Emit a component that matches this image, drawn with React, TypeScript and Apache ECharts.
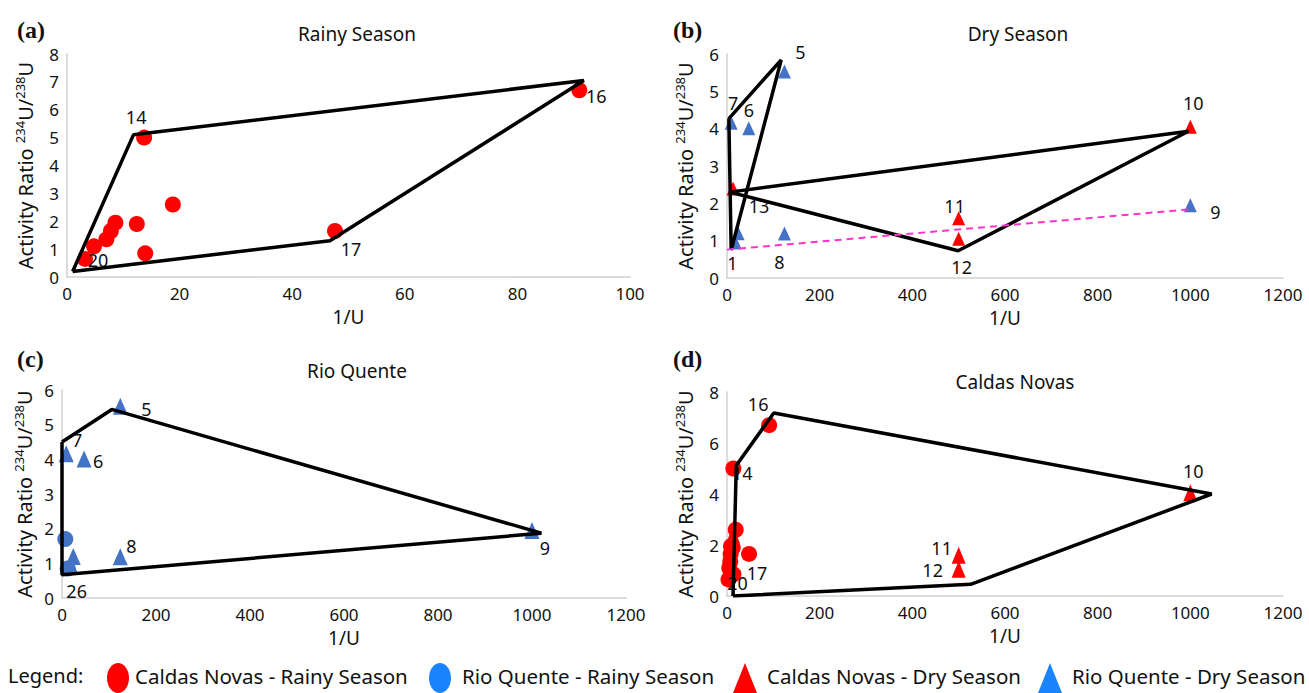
import React, { useEffect, useRef } from "react";
import * as echarts from "echarts";

// [1/U, 234U/238U activity ratio, sample id]
const cnRainy: [number, number, string][] = [
  [91, 6.7, "16"], [13.7, 5.0, "14"], [18.8, 2.6, ""], [12.4, 1.9, ""], [8.6, 1.95, ""],
  [7.8, 1.65, ""], [7.0, 1.35, ""], [4.8, 1.1, ""], [3.2, 0.65, "20"], [13.9, 0.85, ""], [47.6, 1.65, "17"],
];
const rqRainy: [number, number, string][] = [[7, 1.7, ""], [12, 0.85, "26"]];
const cnDry: [number, number, string][] = [[1000, 4.05, "10"], [500, 1.6, "11"], [500, 1.05, "12"], [13, 2.4, "13"]];
const rqDry: [number, number, string][] = [
  [124, 5.53, "5"], [47, 4.01, "6"], [9, 4.16, "7"], [124, 1.19, "8"], [1000, 1.95, "9"], [24, 1.2, ""], [18, 0.95, "1"],
];

// hull / trend lines
const hullA = [[1, 0.2], [11.8, 5.1], [91.8, 7.05], [46.7, 1.3], [1, 0.2]];
const hullBRq = [[4, 4.27], [117, 5.84], [9, 0.75], [4, 4.27]];
const hullBCn = [[6, 2.3], [996, 3.93], [499, 0.73], [6, 2.3]];
const trendB = [[0, 0.76], [1000, 1.84]];
const hullC = [[0, 4.5], [106, 5.44], [1020, 1.87], [0, 0.67], [0, 4.5]];
const hullD = [[13, 0], [20, 5.12], [101, 7.18], [1046, 4.0], [526, 0.46], [13, 0]];

const titles = ["Rainy Season", "Dry Season", "Rio Quente", "Caldas Novas"];
const letters = ["(a)", "(b)", "(c)", "(d)"];
const xMax = [100, 1200, 1200, 1200];
const xStep = [20, 200, 200, 200];
const yMax = [8, 6, 6, 8];
const yStep = [1, 1, 1, 2];
const legendItems = ["Caldas Novas - Rainy Season", "Rio Quente - Rainy Season", "Caldas Novas - Dry Season", "Rio Quente - Dry Season"];

// label offsets (px) per panel
const offA: Record<string, number[]> = { "16": [17, 6], "14": [-8, -21], "20": [13, 1], "17": [16, 18] };
const offB: Record<string, number[]> = {
  "5": [16, -20], "7": [2, -20], "6": [0, -18], "13": [26, 18], "1": [-3, 20], "8": [-5, 28],
  "10": [3, -24], "11": [-4, -12], "12": [3, 28], "9": [25, 7],
};
const offC: Record<string, number[]> = { "5": [26, 3], "7": [11, -14], "6": [14, 2], "8": [11, -11], "9": [13, 18], "26": [9, 22] };
const offD: Record<string, number[]> = { "16": [-11, -21], "14": [9, 4], "17": [8, 19], "20": [9, 4], "10": [3, -22], "11": [-17, -7], "12": [-26, 1] };

const FONT = "'Noto Sans', 'Open Sans', sans-serif";
const RED = "#ff0000";
const BLUE = "#4472c4";

const grids = [
  { left: 67, top: 54, width: 563, height: 223 },
  { left: 727, top: 54, width: 556, height: 224 },
  { left: 62, top: 390, width: 564, height: 208 },
  { left: 727, top: 392, width: 556, height: 204 },
];

function scatter(data: [number, number, string][], idx: number, symbol: string, size: any, color: string, offs: Record<string, number[]>) {
  return {
    type: "scatter",
    xAxisIndex: idx,
    yAxisIndex: idx,
    symbol,
    symbolSize: size,
    itemStyle: { color, opacity: 1 },
    z: 3,
    data: data.map(([x, y, id]) => ({
      value: [x, y],
      label: offs[id]
        ? { show: true, formatter: id, position: "inside", offset: offs[id], color: "#111", fontSize: 18, fontFamily: FONT }
        : { show: false },
    })),
  };
}

function line(data: number[][], idx: number, extra: any = {}) {
  return {
    type: "line",
    xAxisIndex: idx,
    yAxisIndex: idx,
    data,
    symbol: "none",
    z: 4,
    lineStyle: { color: "#000", width: 3.5 },
    ...extra,
  };
}

export default function App() {
  const ref = useRef<HTMLDivElement>(null);
  useEffect(() => {
    document.body.style.margin = "0";
    const chart = echarts.init(ref.current!, null, { renderer: "svg" });
    const axisLine = { show: true, lineStyle: { color: "#d0d0d0", width: 1.5 } };
    const option: any = {
      animation: false,
      backgroundColor: "#fff",
      grid: grids.map((g) => ({ ...g, containLabel: false })),
      title: [
        ...titles.map((t, i) => ({
          text: t,
          left: [352, 1013, 352, 1010][i],
          top: [19, 19, 356, 367][i],
          textAlign: "center",
          textStyle: { fontSize: 19, fontWeight: "normal", color: "#111", fontFamily: FONT },
        })),
        ...letters.map((t, i) => ({
          text: t,
          left: [12, 668, 12, 668][i],
          top: [13, 13, 342, 342][i],
          textStyle: { fontSize: 24, fontWeight: "bold", color: "#111", fontFamily: "'Liberation Serif', serif" },
        })),
      ],
      xAxis: grids.map((_, i) => ({
        type: "value",
        gridIndex: i,
        min: 0,
        max: xMax[i],
        interval: xStep[i],
        axisLine,
        axisTick: { show: false },
        splitLine: { show: false },
        axisLabel: { color: "#111", fontSize: 17, margin: 8, fontFamily: FONT, formatter: (v: number) => String(v) },
        name: "1/U",
        nameLocation: "middle",
        nameGap: [30, 30, 30, 30][i],
        nameTextStyle: { color: "#111", fontSize: 19, fontFamily: FONT, lineHeight: 20 },
      })),
      yAxis: grids.map((_, i) => ({
        type: "value",
        gridIndex: i,
        min: 0,
        max: yMax[i],
        interval: yStep[i],
        axisLine,
        axisTick: { show: false },
        splitLine: { show: false },
        axisLabel: { color: "#111", fontSize: 17, margin: 8, fontFamily: FONT, formatter: (v: number) => String(v) },
        name: "{n|Activity Ratio }{s|234}{n|U/}{s|238}{n|U}",
        nameLocation: "middle",
        nameGap: [30, 30, 26, 30][i],
        nameTextStyle: {
          rich: {
            n: { fontSize: 20, color: "#111", fontFamily: FONT, lineHeight: 24 },
            s: { fontSize: 13, color: "#111", fontFamily: FONT, verticalAlign: "top", lineHeight: 24, padding: [0, 0, 8, 0] },
          },
        },
      })),
      series: [
        // (a)
        scatter(cnRainy, 0, "circle", 16, RED, offA),
        line(hullA, 0),
        // (b)
        scatter(rqDry, 1, "triangle", [13, 14], BLUE, offB),
        scatter(cnDry, 1, "triangle", [13, 14], RED, offB),
        line(hullBRq, 1),
        line(hullBCn, 1),
        line(trendB, 1, { lineStyle: { color: "#ff33cc", width: 2, type: [7, 5] } }),
        // (c)
        scatter(rqRainy, 2, "circle", 16, BLUE, offC),
        scatter(rqDry, 2, "triangle", [15, 17], BLUE, offC),
        line(hullC, 2),
        // (d)
        scatter(cnRainy, 3, "circle", 16, RED, offD),
        scatter(cnDry, 3, "triangle", [14, 17], RED, offD),
        line(hullD, 3),
      ],
      graphic: [
        { type: "text", left: 8, top: 665, style: { text: "Legend:", fontSize: 20, fill: "#111", fontFamily: FONT } },
        { type: "ellipse", shape: { cx: 118, cy: 678, rx: 11, ry: 15 }, style: { fill: RED } },
        { type: "text", left: 135, top: 665, style: { text: legendItems[0], fontSize: 20.5, fill: "#111", fontFamily: FONT } },
        { type: "ellipse", shape: { cx: 440, cy: 678, rx: 11, ry: 15 }, style: { fill: "#1a84ff" } },
        { type: "text", left: 462, top: 665, style: { text: legendItems[1], fontSize: 20.5, fill: "#111", fontFamily: FONT } },
        { type: "polygon", shape: { points: [[745, 663], [733, 693], [757, 693]] }, style: { fill: RED } },
        { type: "text", left: 767, top: 665, style: { text: legendItems[2], fontSize: 20.5, fill: "#111", fontFamily: FONT } },
        { type: "polygon", shape: { points: [[1050, 663], [1038, 693], [1062, 693]] }, style: { fill: "#1a84ff" } },
        { type: "text", left: 1072, top: 665, style: { text: legendItems[3], fontSize: 20.5, fill: "#111", fontFamily: FONT } },
      ],
    };
    chart.setOption(option);
    return () => chart.dispose();
  }, []);
  return <div ref={ref} style={{ width: 1309, height: 693 }} />;
}
